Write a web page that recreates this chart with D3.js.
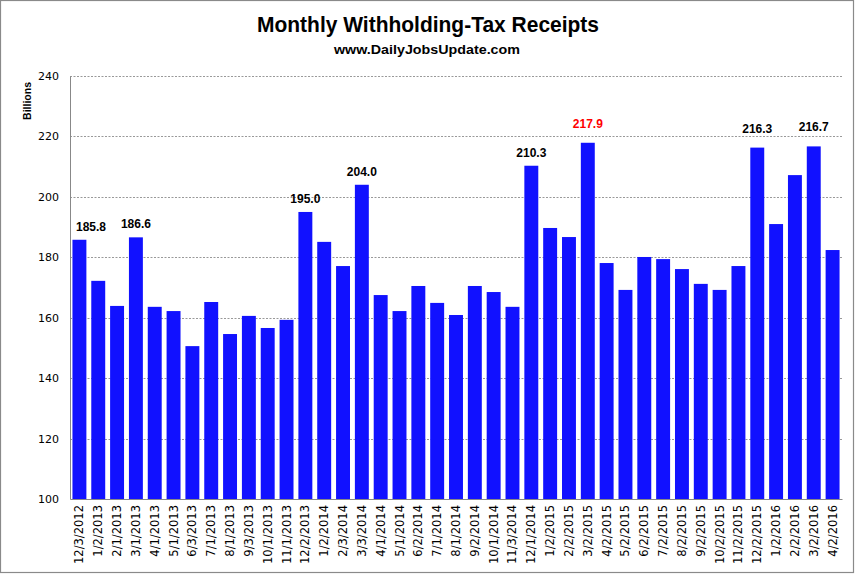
<!DOCTYPE html>
<html><head><meta charset="utf-8">
<script src="https://cdn.jsdelivr.net/npm/d3@7"></script>
<style>body{margin:0;background:#fff}svg{display:block}</style>
</head><body><svg id="c" width="856" height="574"></svg>
<script>
const categories = ["12/3/2012","1/2/2013","2/1/2013","3/1/2013","4/1/2013","5/1/2013","6/3/2013","7/1/2013","8/1/2013","9/3/2013","10/1/2013","11/1/2013","12/2/2013","1/2/2014","2/3/2014","3/3/2014","4/1/2014","5/1/2014","6/2/2014","7/1/2014","8/1/2014","9/2/2014","10/1/2014","11/3/2014","12/1/2014","1/2/2015","2/2/2015","3/2/2015","4/2/2015","5/2/2015","6/2/2015","7/2/2015","8/2/2015","9/2/2015","10/2/2015","11/2/2015","12/2/2015","1/2/2016","2/2/2016","3/2/2016","4/2/2016"];
const values = [185.8,172.2,163.9,186.6,163.6,162.2,150.6,165.2,154.6,160.6,156.6,159.3,195.0,185.1,177.1,204.0,167.5,162.2,170.5,164.9,160.9,170.5,168.5,163.6,210.3,189.7,186.7,217.9,178.1,169.2,180.1,179.4,176.1,171.2,169.2,177.1,216.3,191.0,207.2,216.7,182.4];
const labeled = ["12/3/2012","3/1/2013","12/2/2013","3/3/2014","12/1/2014","3/2/2015","12/2/2015","3/2/2016"];
const highlight = ["3/2/2015"];
const yTicks = [100,120,140,160,180,200,220,240];

const svg = d3.select("#c");
const L = 70, R = 842, T = 76, B = 499;
const x = d3.scaleBand().domain(categories).range([L, R]).paddingInner(0.26).paddingOuter(0.13);
const y = d3.scaleLinear().domain([100, 240]).range([B, T]);

svg.append("rect").attr("x",0.5).attr("y",0.5).attr("width",853).attr("height",572)
  .attr("fill","#fff").attr("stroke","#8a8a8a").attr("stroke-width",1.2);

// gridlines
svg.append("g").selectAll("line").data(yTicks.filter(d=>d>100)).join("line")
  .attr("x1",L).attr("x2",R).attr("y1",d=>Math.round(y(d))+0.5).attr("y2",d=>Math.round(y(d))+0.5)
  .attr("stroke","#999").attr("stroke-dasharray","2,1.5").attr("stroke-width",1);

// bars
svg.append("g").selectAll("rect").data(values).join("rect")
  .attr("x",(d,i)=>x(categories[i])).attr("width",x.bandwidth())
  .attr("y",d=>y(d)).attr("height",d=>B-y(d)).attr("fill","#1111ff");

// axes
const yAxis = svg.append("g").attr("transform",`translate(${L},0)`)
  .call(d3.axisLeft(y).tickValues(yTicks).tickSize(0).tickPadding(11).tickFormat(d3.format("d")));
yAxis.select(".domain").attr("stroke","#888");
yAxis.selectAll("text").attr("font-family","DejaVu Sans, Verdana, sans-serif").attr("font-size","11px").attr("fill","#000");

const xAxis = svg.append("g").attr("transform",`translate(0,${B})`)
  .call(d3.axisBottom(x).tickSize(0).tickPadding(0));
xAxis.select(".domain").attr("stroke","#888");
xAxis.selectAll("text").attr("font-family","DejaVu Sans, Verdana, sans-serif").attr("font-size","11.5px").attr("fill","#000")
  .attr("text-anchor","end").attr("dy",null).attr("y",0)
  .attr("transform","translate(4,6) rotate(-90)");

// value labels (kept inside the plot area, as the original does for the first bar)
svg.append("g").selectAll("text").data(categories.filter(c=>labeled.includes(c))).join("text")
  .attr("x",c=>Math.max(x(c)+x.bandwidth()/2, L+21))
  .attr("y",c=>{const v=values[categories.indexOf(c)];return y(v)-(v>215?15:9);})
  .attr("text-anchor","middle").attr("font-family","Liberation Sans, Arial, sans-serif")
  .attr("font-weight","bold").attr("font-size","12px")
  .attr("fill",c=>highlight.includes(c)?"#ff0000":"#000")
  .text(c=>values[categories.indexOf(c)].toFixed(1));

// titles
svg.append("text").attr("x",428).attr("y",32).attr("text-anchor","middle")
  .attr("font-family","Liberation Sans Narrow, Arial Narrow, sans-serif").attr("font-weight","bold")
  .attr("font-size","22px").attr("textLength",342).attr("lengthAdjust","spacingAndGlyphs")
  .text("Monthly Withholding-Tax Receipts");
svg.append("text").attr("x",427).attr("y",54).attr("text-anchor","middle")
  .attr("font-family","Liberation Sans Narrow, Arial Narrow, sans-serif").attr("font-weight","bold")
  .attr("font-size","13.5px").attr("textLength",186).attr("lengthAdjust","spacingAndGlyphs")
  .text("www.DailyJobsUpdate.com");
svg.append("text").attr("transform","translate(31,101) rotate(-90)").attr("text-anchor","middle")
  .attr("font-family","Liberation Sans, Arial, sans-serif").attr("font-weight","bold").attr("font-size","10.5px")
  .text("Billions");
</script></body></html>
